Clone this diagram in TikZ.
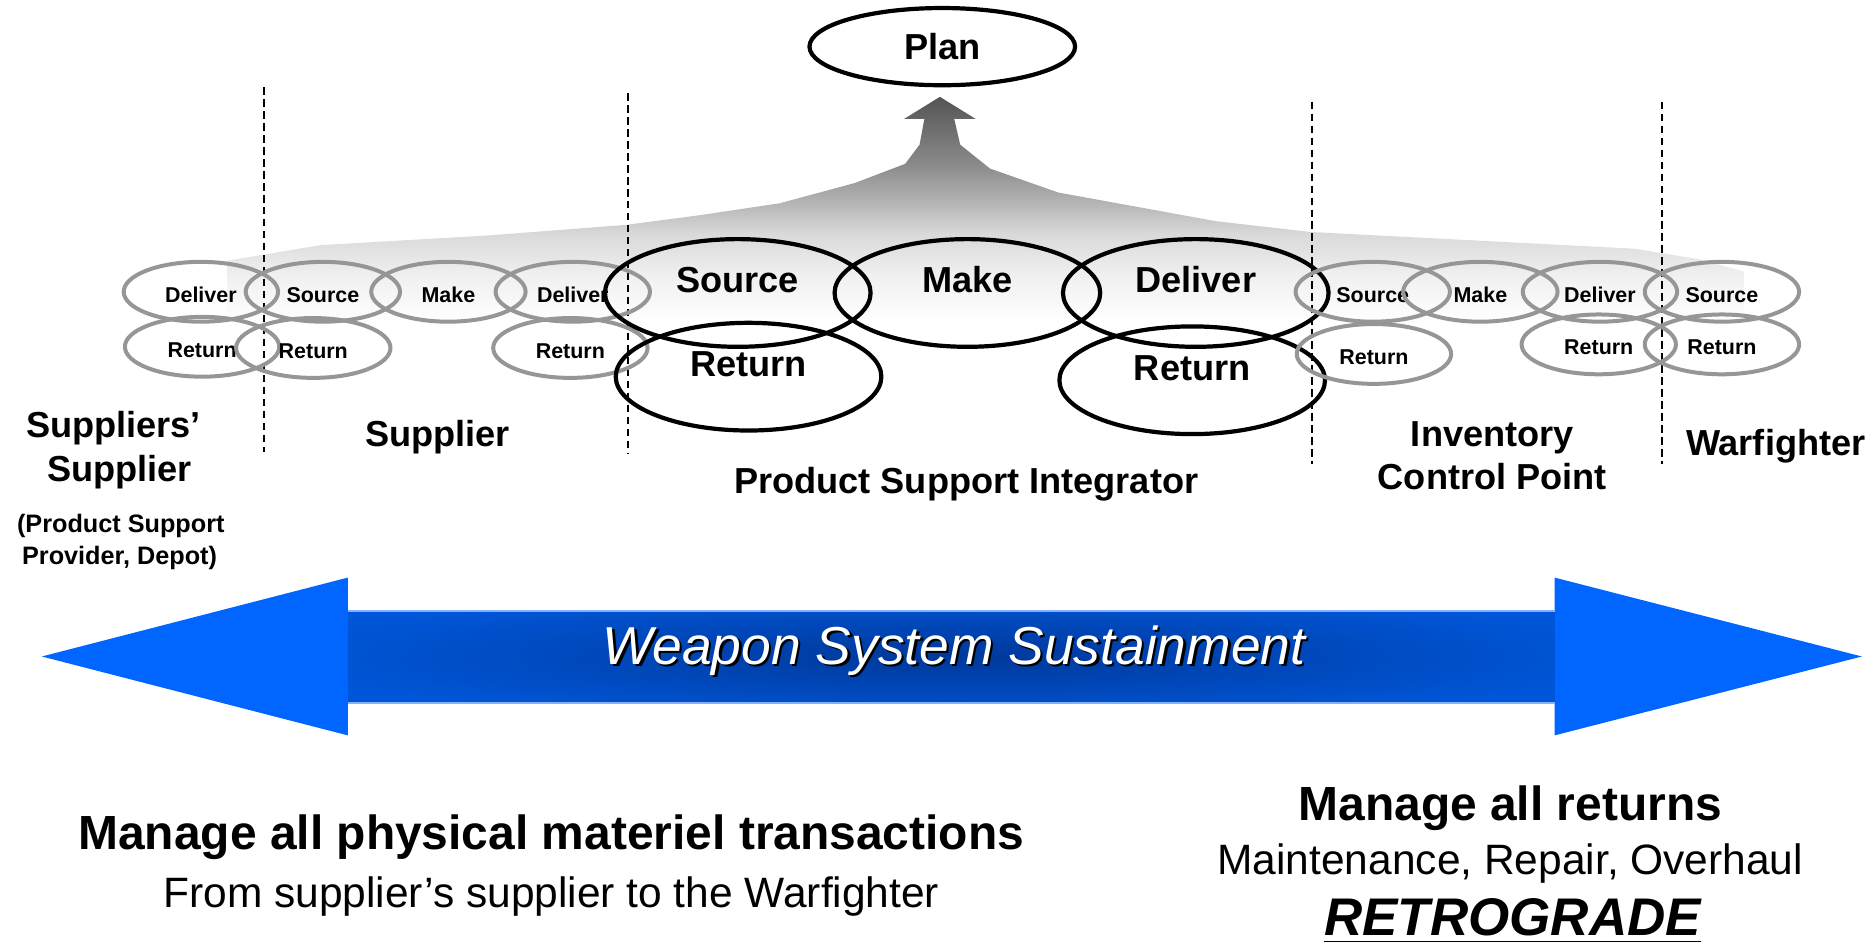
\documentclass[tikz,border=0pt]{standalone}
\usepackage{fontspec}
\setmainfont{Liberation Sans}
\usetikzlibrary{shapes.geometric}

\definecolor{ringgray}{HTML}{969696}
\definecolor{arrowblue}{HTML}{0066FF}
\definecolor{shaftblue}{HTML}{0056D8}
\definecolor{deepblue}{HTML}{00389A}
\definecolor{edgeblue}{HTML}{80B2FF}

% grey fan under the arrow to Plan
\pgfdeclareverticalshading{fanshade}{100bp}{color(0bp)=(white); color(29.8bp)=(white);
  color(39.4bp)=(black!6); color(47.7bp)=(black!15); color(53.7bp)=(black!29);
  color(61.6bp)=(black!46); color(75bp)=(black!67); color(100bp)=(black!67)}

\begin{document}
\begin{tikzpicture}[x=0.01cm,y=-0.01cm,
    ring/.style={ellipse,draw=ringgray,line width=0.95pt,minimum width=1.29cm,
                 minimum height=0.5cm,inner sep=0pt,text height=5pt,text depth=0pt,
                 font=\fontsize{5.1}{6}\selectfont\bfseries},
    big ring/.style={ellipse,draw,line width=1pt,minimum width=2.22cm,
                 minimum height=0.9cm,inner sep=0pt},
    big label/.style={font=\fontsize{8.6}{10}\selectfont\bfseries,anchor=base,inner sep=0pt},
    tier/.style={font=\fontsize{8.6}{10}\selectfont\bfseries,anchor=base,inner sep=0pt},
    tier note/.style={font=\fontsize{6}{7}\selectfont\bfseries,anchor=base,inner sep=0pt},
    divider/.style={dash pattern=on 1.75pt off 1.1pt,line width=0.48pt},
    banner/.style={font=\fontsize{12.7}{14}\selectfont\itshape,inner sep=0pt},
    headline/.style={font=\fontsize{11.4}{13}\selectfont\bfseries,anchor=base,inner sep=0pt},
    subline/.style={font=\fontsize{10.1}{12}\selectfont,anchor=base,inner sep=0pt}]

  \useasboundingbox (0,0) rectangle (1568,788);

  \shade[shading=fanshade] (786,81) -- (816,99.5) -- (798,99.5) -- (803,121) -- (828,141)
    -- (885,161) -- (1017,185) -- (1096,194) -- (1367,208) -- (1422,217) -- (1458,227)
    -- (1458,290) -- (190,290) -- (190,218) -- (268,205) -- (407,197) -- (524,188)
    -- (585,180) -- (652,170) -- (715,153) -- (757,137) -- (769,121) -- (773,99.5)
    -- (756,99.5) -- cycle;

  \draw[divider] (221,73) -- (221,378);
  \draw[divider] (525,78) -- (525,380);
  \draw[divider] (1097,85) -- (1097,388);
  \draw[divider] (1390,85) -- (1390,388);

  \node[ellipse,draw,line width=1pt,minimum width=2.22cm,minimum height=0.64cm,
        font=\fontsize{8.6}{10}\selectfont\bfseries] (plan) at (788,39) {Plan};

  % suppliers' supplier and supplier
  \node[ring] (ssDeliver) at (168,244) {Deliver};
  \node[ring] (ssReturn) at (169,290) {Return};
  \node[ring] (supSource) at (270,244) {Source};
  \node[ring] (supReturnIn) at (262,291) {Return};
  \node[ring] (supMake) at (375,244) {Make};
  \node[ring] (supDeliver) at (479,244) {Deliver};
  \node[ring] (supReturnOut) at (477,291) {Return};

  % product support integrator
  \node[big ring] (psiSource) at (617,245) {};
  \node[big ring] (psiMake) at (809,245) {};
  \node[big ring] (psiDeliver) at (1000,245) {};
  \node[big ring] (psiReturnIn) at (626,315) {};
  \node[big ring] (psiReturnOut) at (997,318) {};
  \node[big label] (psiSourceText) at (psiSource.center) {Source};
  \node[big label] (psiMakeText) at (psiMake.center) {Make};
  \node[big label] (psiDeliverText) at (psiDeliver.center) {Deliver};
  \node[big label] (psiReturnInText) at (psiReturnIn.center) {Return};
  \node[big label] (psiReturnOutText) at (psiReturnOut.center) {Return};

  % inventory control point and warfighter
  \node[ring] (icpSource) at (1148,244) {Source};
  \node[ring] (icpMake) at (1238,244) {Make};
  \node[ring] (icpDeliver) at (1338,244) {Deliver};
  \node[ring] (icpReturnIn) at (1149,296) {Return};
  \node[ring] (icpReturnOut) at (1337,288) {Return};
  \node[ring] (wfSource) at (1440,244) {Source};
  \node[ring] (wfReturn) at (1440,288) {Return};

  \node[tier] (ssName) at (95,366) {Suppliers’};
  \node[tier] (ssNameB) at (100,403) {Supplier};
  \node[tier note] (ssNote) at (101,445) {(Product Support};
  \node[tier note] (ssNoteB) at (100,472) {Provider, Depot)};
  \node[tier] (supName) at (366,373) {Supplier};
  \node[tier] (psiName) at (808,413) {Product Support Integrator};
  \node[tier] (icpName) at (1248,373) {Inventory};
  \node[tier] (icpNameB) at (1248,409) {Control Point};
  \node[tier] (wfName) at (1485,381) {Warfighter};

  % weapon system sustainment arrow
  \fill[arrowblue] (35,549) -- (291,483) -- (291,511) -- (1300,511) -- (1300,483)
    -- (1557,549) -- (1300,615) -- (1300,588) -- (291,588) -- (291,615) -- cycle;
  \fill[shaftblue] (291,511) rectangle (1300,588);
  \begin{scope}
    \clip (291,511) rectangle (1300,588);
    \shade[inner color=deepblue,outer color=shaftblue] (796,549) ellipse [x radius=560,y radius=56];
  \end{scope}
  \draw[edgeblue,line width=0.5pt] (291,511) -- (1300,511);
  \draw[edgeblue,line width=0.5pt] (291,588) -- (1300,588);
  \node[banner,text=black] (wssShadow) at (800,546) {Weapon System Sustainment};
  \node[banner,text=white] (wss) at (798,544) {Weapon System Sustainment};

  \node[headline] (physical) at (461,710) {Manage all physical materiel transactions};
  \node[subline] (physicalSub) at (461,759) {From supplier’s supplier to the Warfighter};
  \node[headline] (returns) at (1263,686) {Manage all returns};
  \node[subline] (returnsSub) at (1263,731) {Maintenance, Repair, Overhaul};
  \node[headline,font=\fontsize{12.6}{14}\selectfont\bfseries\itshape] (retro) at (1265,782) {\underline{RETROGRADE}};
\end{tikzpicture}
\end{document}
